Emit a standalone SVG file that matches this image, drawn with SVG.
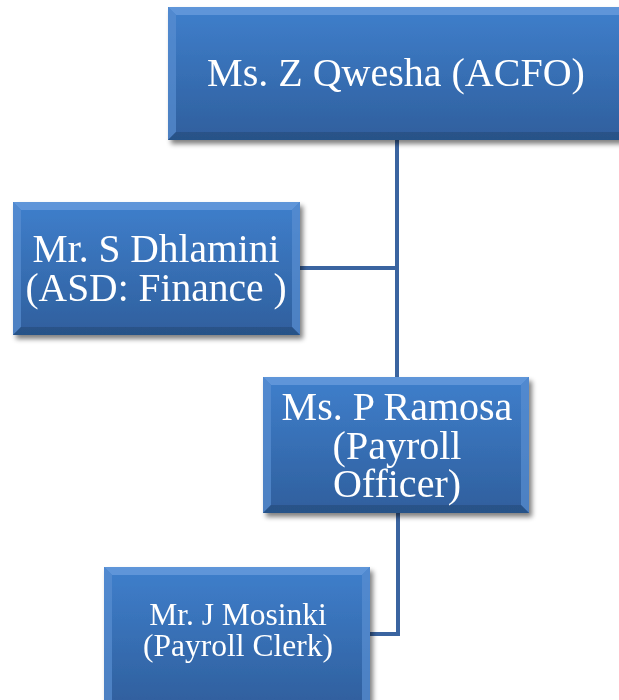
<svg xmlns="http://www.w3.org/2000/svg" width="619" height="700" viewBox="0 0 619 700">
  <defs>
    <linearGradient id="face" x1="0" y1="0" x2="0" y2="1">
      <stop offset="0" stop-color="#3f7fcc"/>
      <stop offset="1" stop-color="#2f5f9d"/>
    </linearGradient>
    <filter id="shadow" x="-10%" y="-10%" width="125%" height="130%">
      <feGaussianBlur in="SourceAlpha" stdDeviation="2.5"/>
      <feOffset dx="3" dy="4" result="b"/>
      <feComponentTransfer><feFuncA type="linear" slope="0.5"/></feComponentTransfer>
      <feMerge><feMergeNode/><feMergeNode in="SourceGraphic"/></feMerge>
    </filter>
  </defs>
  <style>
    .box { fill: url(#face); }
    .hl { fill: #6a9ede; opacity: 0.75; }
    .hl2 { fill: #5a8fd2; opacity: 0.7; }
    .dk { fill: #24497a; opacity: 0.6; }
    .lbl { font-family: "Liberation Serif", "Times New Roman", serif; fill: #ffffff; text-anchor: middle; }
    .conn { stroke: #3a64a0; stroke-width: 4; fill: none; }
  </style>

  <g id="connectors">
    <path class="conn" d="M397 140 V378"/>
    <path class="conn" d="M300 268 H397"/>
    <path class="conn" d="M398 513 V634 H370"/>
  </g>

  <g id="node-acfo" filter="url(#shadow)">
    <rect class="box" x="168" y="7" width="462" height="133"/>
    <polygon class="hl" points="168,7 630,7 622,15 176,15"/>
    <polygon class="hl2" points="168,7 176,15 176,132 168,140"/>
    <polygon class="dk" points="168,140 176,132 622,132 630,140"/>
    <text class="lbl" x="396" y="86" font-size="40">Ms. Z Qwesha (ACFO)</text>
  </g>

  <g id="node-finance" filter="url(#shadow)">
    <rect class="box" x="13" y="202" width="287" height="133"/>
    <polygon class="hl" points="13,202 300,202 292,210 21,210"/>
    <polygon class="hl2" points="13,202 21,210 21,327 13,335"/>
    <polygon class="hl2" points="300,202 300,335 292,327 292,210"/>
    <polygon class="dk" points="13,335 21,327 292,327 300,335"/>
    <text class="lbl" x="156" y="262" font-size="39.5">Mr. S Dhlamini</text>
    <text class="lbl" x="156" y="301" font-size="39.5">(ASD: Finance )</text>
  </g>

  <g id="node-officer" filter="url(#shadow)">
    <rect class="box" x="263" y="377" width="266" height="136"/>
    <polygon class="hl" points="263,377 529,377 521,385 271,385"/>
    <polygon class="hl2" points="263,377 271,385 271,505 263,513"/>
    <polygon class="hl2" points="529,377 529,513 521,505 521,385"/>
    <polygon class="dk" points="263,513 271,505 521,505 529,513"/>
    <text class="lbl" x="397" y="420" font-size="40">Ms. P Ramosa</text>
    <text class="lbl" x="397" y="459" font-size="40">(Payroll</text>
    <text class="lbl" x="397" y="497" font-size="40">Officer)</text>
  </g>

  <g id="node-clerk" filter="url(#shadow)">
    <rect class="box" x="104" y="567" width="266" height="140"/>
    <polygon class="hl" points="104,567 370,567 362,575 112,575"/>
    <polygon class="hl2" points="104,567 112,575 112,707 104,707"/>
    <polygon class="hl2" points="370,567 370,707 362,707 362,575"/>
    <text class="lbl" x="238" y="625" font-size="31.5">Mr. J Mosinki</text>
    <text class="lbl" x="238" y="656" font-size="31.5">(Payroll Clerk)</text>
  </g>
</svg>
